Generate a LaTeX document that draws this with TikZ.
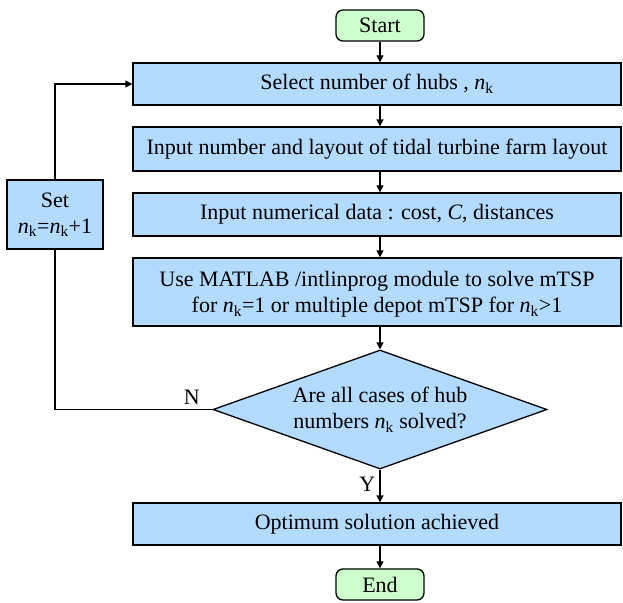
\documentclass[tikz,border=0pt]{standalone}
\usepackage{fontspec}
\setmainfont{Liberation Serif}
\usetikzlibrary{shapes.geometric,arrows.meta}
\definecolor{boxblue}{RGB}{179,218,255}
\definecolor{termgreen}{RGB}{204,255,204}
\begin{document}
\begin{tikzpicture}[x=1pt,y=-1pt,
  every node/.style={font=\fontsize{22}{26}\selectfont},
  proc/.style={draw,line width=1.3pt,fill=boxblue,minimum width=488pt,inner sep=0pt,align=center},
  term/.style={draw,line width=1.3pt,fill=termgreen,rounded corners=7pt,minimum width=88pt,minimum height=31pt,inner sep=0pt},
  dec/.style={draw,line width=1.3pt,fill=boxblue,diamond,aspect=2.8,inner sep=0pt,minimum width=334pt,minimum height=119pt,align=center},
  arr/.style={line width=1.3pt,-{Triangle[length=7pt,width=7pt]}},
  ln/.style={line width=1.3pt}]
\useasboundingbox (0,0) rectangle (623,602);
\node[term] (start) at (380,25.5) {Start};
\node[proc,minimum height=42pt] (b1) at (377,84) {Select number of hubs , \textit{n}\textsubscript{k}};
\node[proc,minimum height=44pt] (b2) at (377,149) {Input number and layout of tidal turbine farm layout};
\node[proc,minimum height=43pt] (b3) at (377,214.5) {Input numerical data : cost, \textit{C}, distances};
\node[proc,minimum height=68pt,text depth=0pt] (b4) at (377,292) {Use MATLAB /intlinprog module to solve mTSP\\for \textit{n}\textsubscript{k}=1 or multiple depot mTSP for \textit{n}\textsubscript{k}>1};
\node[dec] (d) at (380,409.5) {Are all cases of hub\\numbers \textit{n}\textsubscript{k} solved?};
\node[proc,minimum height=42pt] (b5) at (377,524) {Optimum solution achieved};
\node[term] (end) at (380,584.5) {End};
\node[draw,line width=1.3pt,fill=boxblue,minimum width=96pt,minimum height=69pt,align=center,inner sep=0pt] (set) at (55,214.5) {Set\\\textit{n}\textsubscript{k}=\textit{n}\textsubscript{k}+1};
\draw[arr] (start) -- (start|-b1.north);
\draw[arr] (b1.south-|start) -- (start|-b2.north);
\draw[arr] (b2.south-|start) -- (start|-b3.north);
\draw[arr] (b3.south-|start) -- (start|-b4.north);
\draw[arr] (b4.south-|start) -- (d.north);
\draw[arr] (d.south) -- node[left,pos=0.45,inner sep=4pt] {Y} (start|-b5.north);
\draw[arr] (b5.south-|start) -- (end);
\draw[ln] (d.west) -- node[above,pos=0.13,inner sep=4pt] {N} (d.west-|set) -- (set.south);
\draw[arr] (set.north) |- (b1.west);
\end{tikzpicture}
\end{document}
